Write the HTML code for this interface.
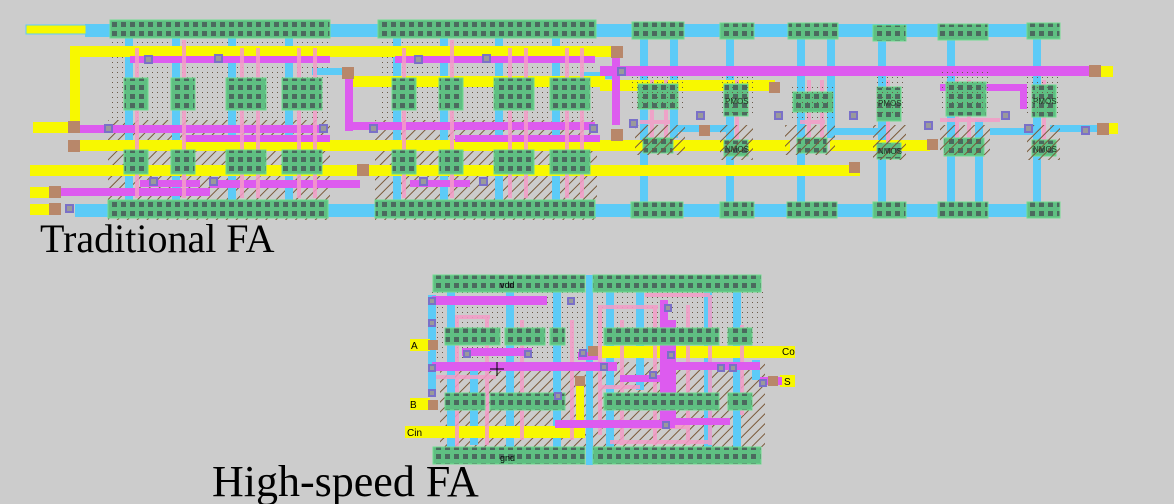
<!DOCTYPE html>
<html><head><meta charset="utf-8"><style>
html,body{margin:0;padding:0;background:#cccccc;width:1174px;height:504px;overflow:hidden}
svg{display:block}
</style></head><body>
<svg width="1174" height="504" viewBox="0 0 1174 504" xmlns="http://www.w3.org/2000/svg">
<defs>
<pattern id="ct" width="9" height="9" patternUnits="userSpaceOnUse" x="2" y="2"><rect width="9" height="9" fill="#5fbf82"/><rect x="2" y="2" width="5" height="5" fill="#4b6a5e"/></pattern>
<pattern id="dots" width="5" height="5" patternUnits="userSpaceOnUse"><rect width="5" height="5" fill="none"/><rect x="2" y="2" width="1" height="1" fill="#6a5a4a"/></pattern>
<pattern id="hatch" width="7" height="7" patternUnits="userSpaceOnUse" patternTransform="rotate(45)"><rect width="7" height="7" fill="none"/><rect x="0" y="0" width="1" height="7" fill="#7a5a3a"/></pattern>
</defs>
<rect width="1174" height="504" fill="#cccccc"/>

<!-- ===== Traditional FA ===== -->
<rect x="110" y="40" width="220" height="80" fill="url(#dots)"/>
<rect x="378" y="40" width="218" height="80" fill="url(#dots)"/>
<rect x="108" y="120" width="222" height="100" fill="url(#hatch)"/>
<rect x="375" y="120" width="222" height="100" fill="url(#hatch)"/>
<rect x="85" y="24" width="975" height="13" fill="#5ccbf7"/>
<rect x="75" y="204" width="985" height="13" fill="#5ccbf7"/>
<g fill="#5ccbf7">
<rect x="125" y="38" width="8" height="170"/><rect x="172" y="38" width="8" height="170"/>
<rect x="228" y="38" width="8" height="170"/><rect x="285" y="38" width="8" height="170"/>
<rect x="393" y="38" width="8" height="170"/><rect x="440" y="38" width="8" height="170"/>
<rect x="495" y="38" width="8" height="170"/><rect x="552" y="38" width="8" height="170"/>
<rect x="640" y="38" width="8" height="170"/><rect x="670" y="38" width="8" height="100"/>
<rect x="726" y="38" width="8" height="170"/><rect x="797" y="38" width="8" height="170"/>
<rect x="827" y="38" width="8" height="100"/><rect x="878" y="38" width="8" height="170"/>
<rect x="947" y="38" width="8" height="170"/><rect x="975" y="120" width="8" height="90"/>
<rect x="1033" y="38" width="8" height="170"/>
<rect x="670" y="125" width="60" height="7"/><rect x="830" y="128" width="50" height="7"/>
<rect x="990" y="128" width="45" height="7"/><rect x="1050" y="125" width="55" height="7"/>
<rect x="312" y="68" width="40" height="7"/><rect x="580" y="72" width="40" height="7"/>
</g>
<g fill="#f8f800">
<rect x="70" y="46" width="545" height="11"/><rect x="70" y="46" width="10" height="80"/>
<rect x="33" y="122" width="45" height="11"/>
<rect x="75" y="140" width="715" height="11"/><rect x="830" y="140" width="100" height="11"/>
<rect x="30" y="165" width="320" height="11"/><rect x="345" y="165" width="515" height="11"/>
<rect x="30" y="187" width="30" height="11"/><rect x="30" y="204" width="30" height="11"/>
<rect x="600" y="80" width="175" height="11"/>
<rect x="345" y="76" width="260" height="11"/>
<rect x="1090" y="66" width="23" height="11"/><rect x="1100" y="123" width="18" height="11"/>
<rect x="26" y="25" width="60" height="9" stroke="#5ccbf7" stroke-width="1"/>
</g>
<g fill="#dd5bef">
<rect x="600" y="66" width="490" height="10"/>
<rect x="78" y="125" width="250" height="8"/><rect x="345" y="122" width="250" height="8"/>
<rect x="60" y="188" width="150" height="8"/><rect x="210" y="180" width="150" height="8"/>
<rect x="130" y="56" width="200" height="7"/><rect x="395" y="56" width="200" height="7"/>
<rect x="345" y="76" width="8" height="55"/><rect x="612" y="55" width="8" height="70"/>
<rect x="185" y="135" width="145" height="7"/><rect x="455" y="135" width="145" height="7"/>
<rect x="140" y="180" width="60" height="7"/><rect x="410" y="180" width="60" height="7"/>
<rect x="940" y="84" width="85" height="7"/><rect x="1020" y="84" width="7" height="25"/>
</g>
<g fill="#f59cc8" opacity="0.85">
<rect x="135" y="48" width="4" height="150"/><rect x="182" y="40" width="4" height="158"/>
<rect x="240" y="48" width="4" height="150"/><rect x="256" y="48" width="4" height="150"/>
<rect x="297" y="48" width="4" height="150"/><rect x="313" y="48" width="4" height="150"/>
<rect x="402" y="48" width="4" height="150"/><rect x="450" y="40" width="4" height="158"/>
<rect x="508" y="48" width="4" height="150"/><rect x="524" y="48" width="4" height="150"/>
<rect x="565" y="48" width="4" height="150"/><rect x="580" y="48" width="4" height="150"/>
<rect x="650" y="80" width="4" height="70"/><rect x="664" y="80" width="4" height="70"/>
<rect x="735" y="80" width="4" height="70"/><rect x="807" y="80" width="4" height="70"/>
<rect x="820" y="80" width="4" height="70"/><rect x="886" y="80" width="4" height="70"/>
<rect x="955" y="80" width="4" height="70"/><rect x="967" y="80" width="4" height="70"/>
<rect x="1042" y="80" width="4" height="70"/>
<rect x="640" y="120" width="30" height="4"/><rect x="800" y="120" width="25" height="4"/>
<rect x="940" y="118" width="60" height="4"/>
</g>
<g fill="url(#ct)" stroke="#6fdd8f" stroke-width="1">
<rect x="124" y="78" width="24" height="32"/><rect x="171" y="78" width="24" height="32"/>
<rect x="226" y="78" width="40" height="32"/><rect x="282" y="78" width="40" height="32"/>
<rect x="124" y="150" width="24" height="24"/><rect x="171" y="150" width="24" height="24"/>
<rect x="226" y="150" width="40" height="24"/><rect x="282" y="150" width="40" height="24"/>
<rect x="392" y="78" width="24" height="32"/><rect x="439" y="78" width="24" height="32"/>
<rect x="494" y="78" width="40" height="32"/><rect x="550" y="78" width="40" height="32"/>
<rect x="392" y="150" width="24" height="24"/><rect x="439" y="150" width="24" height="24"/>
<rect x="494" y="150" width="40" height="24"/><rect x="550" y="150" width="40" height="24"/>
<rect x="638" y="84" width="40" height="25"/><rect x="724" y="84" width="24" height="32"/>
<rect x="793" y="92" width="40" height="20"/><rect x="877" y="87" width="24" height="34"/>
<rect x="946" y="82" width="40" height="34"/><rect x="1032" y="85" width="24" height="32"/>
<rect x="643" y="138" width="30" height="15"/><rect x="724" y="140" width="24" height="16"/>
<rect x="797" y="138" width="30" height="15"/><rect x="877" y="143" width="24" height="16"/>
<rect x="944" y="138" width="40" height="18"/><rect x="1032" y="140" width="24" height="16"/>
</g>
<g fill="url(#dots)"><rect x="632" y="75" width="55" height="35"/><rect x="720" y="75" width="33" height="40"/><rect x="788" y="85" width="45" height="35"/><rect x="873" y="75" width="33" height="40"/><rect x="940" y="72" width="50" height="40"/><rect x="1027" y="75" width="33" height="40"/></g>
<g fill="url(#hatch)"><rect x="635" y="125" width="50" height="30"/><rect x="720" y="125" width="33" height="35"/><rect x="785" y="125" width="50" height="30"/><rect x="873" y="125" width="33" height="35"/><rect x="940" y="125" width="50" height="30"/><rect x="1027" y="125" width="33" height="35"/></g>
<g font-family="Liberation Sans, sans-serif" font-size="8" fill="#223322">
<text x="725" y="104">PMOS</text><text x="878" y="106">PMOS</text><text x="1033" y="104">PMOS</text>
<text x="725" y="152">NMOS</text><text x="878" y="154">NMOS</text><text x="1033" y="152">NMOS</text>
</g>
<g fill="url(#ct)" stroke="#6fdd8f" stroke-width="1">
<rect x="110" y="20" width="220" height="18"/><rect x="378" y="20" width="218" height="18"/>
<rect x="632" y="22" width="52" height="17"/><rect x="720" y="23" width="34" height="16"/>
<rect x="788" y="23" width="50" height="16"/><rect x="873" y="25" width="33" height="16"/>
<rect x="938" y="24" width="50" height="16"/><rect x="1027" y="23" width="33" height="16"/>
<rect x="108" y="200" width="220" height="18"/><rect x="375" y="200" width="220" height="18"/>
<rect x="631" y="202" width="52" height="16"/><rect x="720" y="202" width="34" height="16"/>
<rect x="787" y="202" width="50" height="16"/><rect x="873" y="202" width="33" height="16"/>
<rect x="938" y="202" width="50" height="16"/><rect x="1027" y="202" width="33" height="16"/>
</g>
<g fill="#b8876a" stroke="#b8876a" stroke-width="2">
<rect x="69" y="122" width="10" height="10"/><rect x="69" y="141" width="10" height="10"/>
<rect x="50" y="187" width="10" height="10"/><rect x="50" y="204" width="10" height="10"/>
<rect x="343" y="68" width="10" height="10"/><rect x="358" y="165" width="10" height="10"/>
<rect x="612" y="47" width="10" height="10"/><rect x="612" y="130" width="10" height="10"/>
<rect x="1090" y="66" width="10" height="10"/><rect x="1098" y="124" width="10" height="10"/>
<rect x="700" y="126" width="9" height="9"/><rect x="770" y="83" width="9" height="9"/>
<rect x="850" y="163" width="9" height="9"/><rect x="928" y="140" width="9" height="9"/>
</g>
<g fill="#9a9a9a" stroke="#7a70c8" stroke-width="2">
<rect x="105" y="125" width="7" height="7"/><rect x="145" y="56" width="7" height="7"/>
<rect x="215" y="55" width="7" height="7"/><rect x="320" y="125" width="7" height="7"/>
<rect x="150" y="178" width="7" height="7"/><rect x="210" y="178" width="7" height="7"/>
<rect x="370" y="125" width="7" height="7"/><rect x="415" y="56" width="7" height="7"/>
<rect x="483" y="55" width="7" height="7"/><rect x="590" y="125" width="7" height="7"/>
<rect x="420" y="178" width="7" height="7"/><rect x="480" y="178" width="7" height="7"/>
<rect x="618" y="68" width="7" height="7"/><rect x="630" y="120" width="7" height="7"/>
<rect x="697" y="112" width="7" height="7"/><rect x="775" y="112" width="7" height="7"/>
<rect x="850" y="112" width="7" height="7"/><rect x="925" y="122" width="7" height="7"/>
<rect x="1025" y="125" width="7" height="7"/><rect x="1082" y="127" width="7" height="7"/>
<rect x="66" y="205" width="7" height="7"/><rect x="1002" y="112" width="7" height="7"/>
</g>
<text x="40" y="252" font-family="Liberation Serif, serif" font-size="40" fill="#000">Traditional FA</text>

<!-- ===== High-speed FA ===== -->
<rect x="430" y="292" width="335" height="70" fill="url(#dots)"/>
<rect x="440" y="362" width="325" height="85" fill="url(#hatch)"/>
<g fill="#5ccbf7">
<rect x="586" y="275" width="7" height="190"/>
<rect x="447" y="290" width="8" height="160"/><rect x="506" y="290" width="8" height="160"/>
<rect x="553" y="290" width="8" height="160"/><rect x="606" y="290" width="8" height="160"/>
<rect x="636" y="290" width="8" height="100"/><rect x="704" y="290" width="8" height="160"/>
<rect x="733" y="290" width="8" height="160"/><rect x="752" y="360" width="8" height="20"/>
<rect x="428" y="295" width="8" height="100"/><rect x="470" y="365" width="8" height="80"/>
</g>
<g fill="#f8f800">
<rect x="410" y="339" width="20" height="12"/><rect x="410" y="398" width="20" height="12"/>
<rect x="405" y="426" width="180" height="12"/>
<rect x="595" y="346" width="200" height="12"/>
<rect x="780" y="375" width="15" height="12"/>
<rect x="576" y="378" width="8" height="50"/>
</g>
<g fill="#f59cc8" opacity="0.85">
<rect x="455" y="315" width="35" height="4"/><rect x="455" y="315" width="4" height="140"/>
<rect x="485" y="315" width="4" height="130"/><rect x="520" y="320" width="4" height="120"/>
<rect x="570" y="320" width="4" height="120"/>
<rect x="598" y="305" width="4" height="130"/><rect x="620" y="320" width="4" height="125"/>
<rect x="653" y="305" width="4" height="140"/><rect x="686" y="305" width="4" height="140"/>
<rect x="708" y="295" width="4" height="150"/>
<rect x="645" y="293" width="65" height="4"/><rect x="598" y="305" width="60" height="4"/>
<rect x="610" y="440" width="100" height="4"/><rect x="630" y="425" width="60" height="4"/>
<rect x="740" y="325" width="4" height="90"/><rect x="436" y="375" width="60" height="4"/>
<rect x="600" y="385" width="40" height="4"/>
</g>
<g fill="#dd5bef">
<rect x="432" y="296" width="115" height="9"/><rect x="432" y="362" width="185" height="9"/>
<rect x="462" y="348" width="70" height="8"/><rect x="660" y="362" width="100" height="8"/>
<rect x="660" y="300" width="8" height="125"/><rect x="668" y="320" width="8" height="100"/>
<rect x="555" y="420" width="120" height="8"/><rect x="578" y="352" width="20" height="8"/>
<rect x="670" y="418" width="60" height="7"/><rect x="760" y="377" width="22" height="8"/>
<rect x="620" y="375" width="40" height="7"/>
</g>
<g fill="url(#ct)" stroke="#6fdd8f" stroke-width="1">
<rect x="445" y="328" width="55" height="17"/><rect x="505" y="328" width="40" height="17"/>
<rect x="550" y="328" width="15" height="17"/><rect x="604" y="328" width="115" height="17"/>
<rect x="728" y="328" width="24" height="17"/>
<rect x="445" y="393" width="40" height="17"/><rect x="490" y="393" width="75" height="17"/>
<rect x="604" y="393" width="115" height="17"/><rect x="728" y="393" width="24" height="17"/>
<rect x="433" y="275" width="152" height="17"/><rect x="593" y="275" width="168" height="17"/>
<rect x="433" y="447" width="152" height="17"/><rect x="593" y="447" width="168" height="17"/>
</g>
<g fill="#b8876a">
<rect x="428" y="340" width="10" height="10"/><rect x="428" y="400" width="10" height="10"/>
<rect x="575" y="376" width="10" height="10"/><rect x="588" y="346" width="10" height="10"/>
<rect x="768" y="376" width="10" height="10"/>
</g>
<g fill="#9a9a9a" stroke="#7a70c8" stroke-width="2">
<rect x="429" y="298" width="6" height="6"/><rect x="429" y="320" width="6" height="6"/>
<rect x="429" y="365" width="6" height="6"/><rect x="429" y="390" width="6" height="6"/>
<rect x="464" y="351" width="6" height="6"/><rect x="525" y="351" width="6" height="6"/>
<rect x="568" y="298" width="6" height="6"/><rect x="580" y="350" width="6" height="6"/>
<rect x="601" y="364" width="6" height="6"/><rect x="650" y="372" width="6" height="6"/>
<rect x="665" y="305" width="6" height="6"/><rect x="668" y="352" width="6" height="6"/>
<rect x="718" y="365" width="6" height="6"/><rect x="730" y="365" width="6" height="6"/>
<rect x="760" y="380" width="6" height="6"/><rect x="663" y="422" width="6" height="6"/>
<rect x="555" y="393" width="6" height="6"/>
</g>
<path d="M490 369h14M497 362v14" stroke="#000" stroke-width="1"/>
<g font-family="Liberation Sans, sans-serif" font-size="10" fill="#000">
<text x="411" y="349">A</text><text x="410" y="408">B</text><text x="407" y="436">Cin</text>
<text x="782" y="355">Co</text><text x="784" y="385">S</text>
<text x="500" y="288" font-size="9">vdd</text><text x="500" y="461" font-size="9">gnd</text>
</g>
<text x="212" y="496" font-family="Liberation Serif, serif" font-size="44" fill="#000">High-speed FA</text>
</svg>
</body></html>
